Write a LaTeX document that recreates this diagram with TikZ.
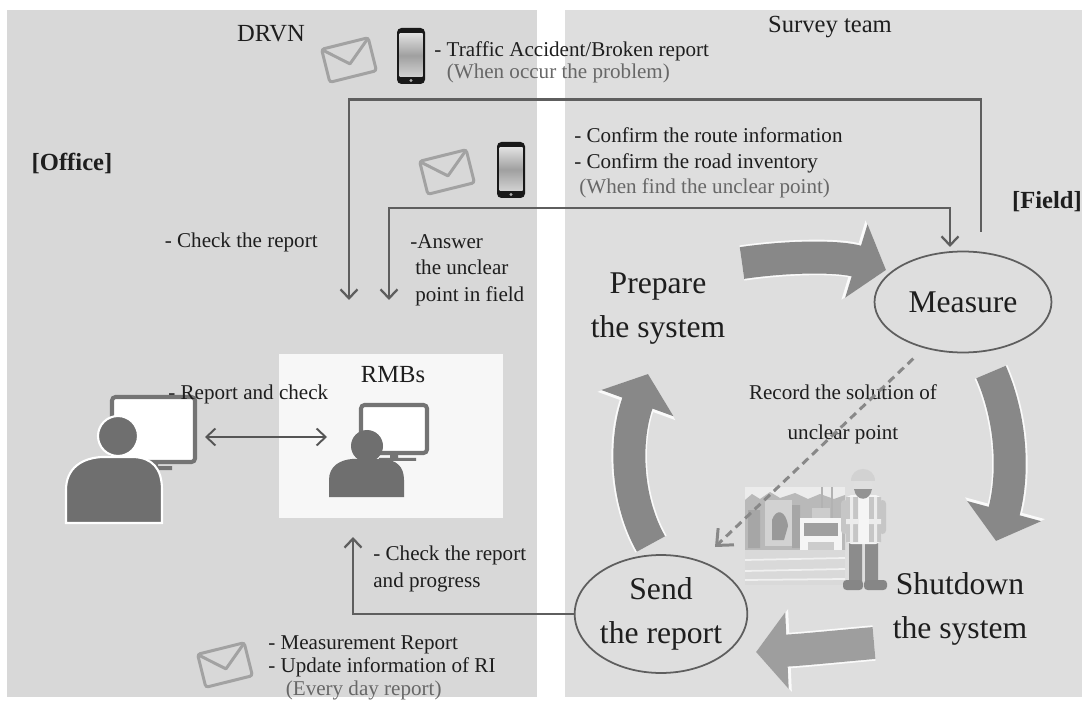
\documentclass[tikz,border=0pt]{standalone}
\usepackage{fontspec}
\setmainfont{Liberation Serif}
\usetikzlibrary{arrows.meta,shapes.geometric,positioning}

\definecolor{ink}{HTML}{1E1E1E}
\definecolor{mute}{HTML}{676767}
\definecolor{wire}{HTML}{5E5E5E}
\definecolor{officebg}{HTML}{D8D8D8}
\definecolor{fieldbg}{HTML}{DEDEDE}
\definecolor{cycdark}{HTML}{888888}
\definecolor{cyclight}{HTML}{9E9E9E}
\definecolor{usergray}{HTML}{6F6F6F}
\definecolor{mailgray}{HTML}{A2A2A2}
\definecolor{monitorgray}{HTML}{747474}
\definecolor{deskwire}{HTML}{555555}

\tikzset{
  note/.style={font=\fontsize{12}{14.5}\selectfont, text=ink, align=left, inner sep=0pt},
  head/.style={font=\fontsize{14}{16}\selectfont, text=ink, inner sep=0pt},
  tag/.style={font=\fontsize{14}{16}\selectfont\bfseries, text=ink, inner sep=0pt},
  big/.style={font=\fontsize{18}{25}\selectfont, text=ink, align=center, inner sep=0pt},
  stage/.style={ellipse, draw=wire, line width=1pt, inner sep=0pt, big},
  flow/.style={draw=wire, line width=1.3pt, -{Straight Barb[length=1.8mm,width=3.4mm]}},
  twoway/.style={flow, {Straight Barb[length=1.8mm,width=3.4mm]}-{Straight Barb[length=1.8mm,width=3.4mm]}},
  dashflow/.style={draw=cycdark, line width=1.7pt, dash pattern=on 4.5pt off 3pt,
    -{Straight Barb[length=2.6mm,width=4.6mm]}},
  cyc/.style={draw=#1, line width=0.64cm, -{Triangle[length=0.62cm,width=1.5cm]},
    preaction={draw=white!96!gray, line width=0.71cm, -{Triangle[length=0.68cm,width=1.62cm]}}},
  screen/.style={draw=monitorgray, line width=2.3pt, fill=white, rounded corners=2pt},
  user/.style={fill=usergray, draw=white, line width=1.2pt},
  envelope/.pic={
    \draw[mailgray, line width=1.7pt, rounded corners=1.5pt] (-24,-17) rectangle (24,17);
    \draw[mailgray, line width=1.7pt, line join=round] (-22,-15) -- (0,4) -- (22,-15);
  },
  handset/.pic={
    \fill[black!90, rounded corners=2.5pt] (-14,-28) rectangle (14,28);
    \shade[top color=gray!25, bottom color=gray!35, middle color=gray!75] (-11.5,-22) rectangle (11.5,21);
    \fill[gray!60] (0,24.5) circle (1.6);
  },
}

\begin{document}
\begin{tikzpicture}[x=0.02cm, y=-0.02cm]
\useasboundingbox (0,0) rectangle (1082,702);

% two panels
\fill[officebg] (7,10) rectangle (537,697);
\fill[fieldbg] (565,10) rectangle (1082,697);

% ---------- office side ----------
\node[head] (drvn) at (271,34) {DRVN};
\pic[rotate=14] at (349,60) {envelope};
\pic at (411,56) {handset};
\node[note, anchor=west, font=\fontsize{12}{12.5}\selectfont] (accid) at (434,62)
  {- Traffic Accident/Broken report\\\hspace*{2.5mm}\textcolor{mute}{(When occur the problem)}};

\node[tag] (office) at (72,163) {[Office]};

\pic[rotate=14] at (447,172) {envelope};
\pic at (511,170) {handset};

\node[note, anchor=east] (chk) at (318,242) {- Check the report};
\node[note, anchor=west, font=\fontsize{12}{15}\selectfont] (answer) at (410,270)
  {-Answer\\\hspace*{1mm}the unclear\\\hspace*{1mm}point in field};

% RMBs desk
\node[fill=white!97!black, minimum width=4.48cm, minimum height=3.28cm] (rmb) at (391,436) {};
\node[head] (rmblbl) at (393,375) {RMBs};

% office staff
\draw[screen] (112,397) rectangle (195,462);
\fill[monitorgray] (149,462) rectangle (158,466) (137,466) rectangle (172,470);
\draw[user] (66,523) -- (66,490) .. controls (66,468) and (82,458) .. (102,457)
  -- (134,457) .. controls (152,458) and (162,468) .. (162,490) -- (162,523) -- cycle;
\draw[user] (118,436) ellipse [x radius=20, y radius=20];

% RMB staff
\draw[screen] (361,405) rectangle (427,453);
\fill[monitorgray] (390,453) rectangle (398,458) (379,458) rectangle (416,461);
\fill[usergray] (329,497) -- (329,480) .. controls (329,466) and (340,460) .. (352,459)
  -- (383,459) .. controls (396,460) and (404,466) .. (404,480) -- (404,497) -- cycle;
\fill[usergray] (367,446) ellipse [x radius=16, y radius=16];

\node[note, anchor=west] (rep) at (168,394) {- Report and check};
\coordinate (staffR) at (205,437);
\coordinate (rmbL) at (327,437);
\draw[twoway, draw=deskwire, line width=1.1pt] (staffR) -- (rmbL);

\node[note, anchor=west, font=\fontsize{12}{15}\selectfont] (prog) at (373,569)
  {- Check the report\\and progress};
\pic[rotate=14] at (225,665) {envelope};
\node[note, anchor=west, font=\fontsize{12}{13}\selectfont] (daily) at (268,668)
  {- Measurement Report\\- Update information of RI\\\hspace*{3.5mm}\textcolor{mute}{(Every day report)}};

% ---------- field side ----------
\node[head] (team) at (830,27) {Survey team};
\node[note, anchor=west] (confirm) at (574,163)
  {- Confirm the route information\\- Confirm the road inventory\\\hspace*{1mm}\textcolor{mute}{(When find the unclear point)}};
\node[tag] (field) at (1047,202) {[Field]};

\node[stage, minimum width=3.54cm, minimum height=2.02cm] (measure) at (963,302) {Measure};
\node[stage, minimum width=3.44cm, minimum height=2.36cm] (send) at (661,614) {Send\\the report};
\node[big] (prep) at (658,309) {Prepare\\the system};
\node[big] (shut) at (960,609) {Shutdown\\the system};

% work cycle
\draw[cyc=cycdark] (742,263) .. controls (790,256) and (840,256) .. (886,270);
\draw[cyc=cycdark] (991,372) .. controls (1012,420) and (1014,475) .. (996,541);
\draw[cyc=cyclight] (874,643) .. controls (840,646) and (800,650) .. (756,652);
\draw[cyc=cycdark] (651,544) .. controls (626,500) and (624,440) .. (648,374);

\node[note, align=center, font=\fontsize{12}{22.7}\selectfont] (sol) at (843,414)
  {Record the solution of\\unclear point};

% survey photo
\begin{scope}
  \clip (745,487) rectangle (845,585);
  \fill[gray!15] (745,487) rectangle (845,585);
  \fill[gray!55] (745,500) -- (752,494) -- (760,499) -- (770,492) -- (780,498) -- (795,493)
    -- (808,499) -- (820,494) -- (834,499) -- (845,495) -- (845,550) -- (745,550) -- cycle;
  \fill[gray!70] (748,510) rectangle (760,548) (792,505) rectangle (800,548);
  \fill[gray!35] (765,500) rectangle (792,546);
  \fill[gray!80] (772,520) .. controls (776,508) and (786,510) .. (788,526) -- (784,540) -- (772,540) -- cycle;
  \draw[gray!60, line width=1pt] (822,487) -- (822,520) (832,487) -- (832,520);
  \fill[gray!40] (812,508) rectangle (830,518);
  \fill[gray!8] (800,518) rectangle (842,558);
  \fill[gray!75] (804,523) rectangle (838,536);
  \fill[gray!40] (808,542) rectangle (834,550);
  \fill[gray!90] (802,556) rectangle (810,566) (832,556) rectangle (840,566);
  \fill[gray!30] (745,550) rectangle (845,585);
  \draw[gray!12, line width=1pt] (745,560) -- (845,558) (745,571) -- (845,569) (745,580) -- (845,579);
\end{scope}

% field worker
\fill[gray!90] (849,540) rectangle (862,583) (865,540) rectangle (878,583);
\fill[gray!95, rounded corners=2pt] (843,580) rectangle (863,590) (864,580) rectangle (887,590);
\fill[gray!8, rounded corners=3pt] (846,495) rectangle (881,544);
\fill[gray!45, rounded corners=2pt] (841,500) rectangle (848,534) (879,500) rectangle (886,534);
\fill[gray!45] (846,497) rectangle (858,542) (869,497) rectangle (881,542);
\fill[gray!15] (846,519) rectangle (858,524) (869,519) rectangle (881,524)
  (850,497) rectangle (853,542) (874,497) rectangle (877,542);
\fill[gray!25] (863,487) ellipse [x radius=10, y radius=11];
\fill[gray!85] (854,489) .. controls (856,502) and (870,502) .. (872,489) -- cycle;
\fill[gray!35] (851,481) .. controls (851,465) and (875,465) .. (875,481) -- cycle;

% report lines
\coordinate (repend) at (349,300);
\coordinate (ansend) at (389,300);
\coordinate (measin) at (950,247);
\coordinate (rmbin) at (353,537);
\coordinate (solto) at (715,547);
\draw[flow] ([xshift=0.36cm,yshift=0.38cm]measure.north) -- ++(0,-132) -| (repend);
\draw[twoway] (ansend) -- ++(0,-92) -| (measin);
\draw[flow] (send.west) -| (rmbin);
\draw[dashflow, shorten <=0.3cm] (measure.230) -- (solto);
\end{tikzpicture}
\end{document}
